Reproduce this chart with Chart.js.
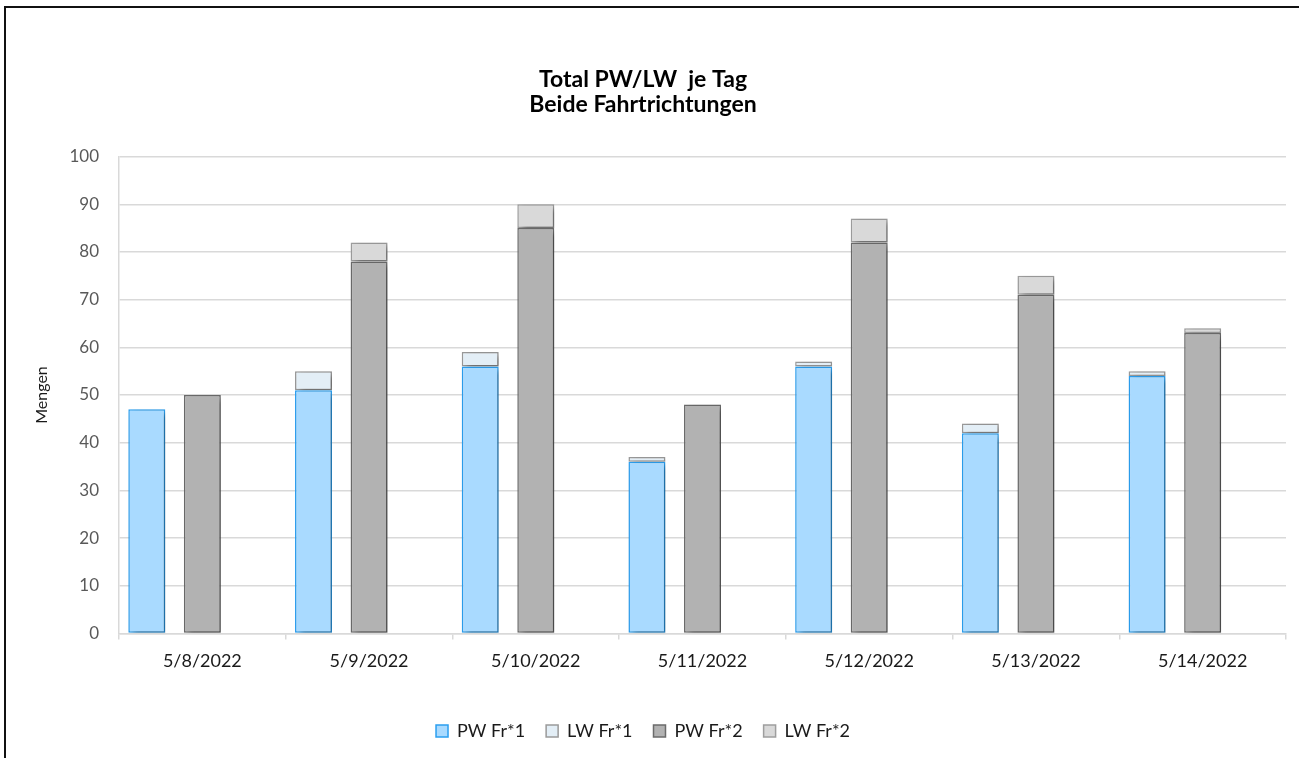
<!DOCTYPE html>
<html>
<head>
<meta charset="utf-8">
<script src="https://cdn.jsdelivr.net/npm/chart.js@4.4.1/dist/chart.umd.min.js"></script>
<style>
    html, body { margin: 0; padding: 0; background: #fff; overflow: hidden; }
    canvas { display: block; }
</style>
</head>
<body>
<canvas id="mengenChart" width="1299" height="758"></canvas>
<script>
const days = ["5/8/2022", "5/9/2022", "5/10/2022", "5/11/2022", "5/12/2022", "5/13/2022", "5/14/2022"];
const pwFr1 = [47, 51, 56, 36, 56, 42, 54];
const lwFr1 = [0, 4, 3, 1, 1, 2, 1];
const pwFr2 = [50, 78, 85, 48, 82, 71, 63];
const lwFr2 = [0, 4, 5, 0, 5, 4, 1];
// leere dritte Gruppe, damit die Säulen wie im Original links vom Kategoriemittel stehen
const empty = [null, null, null, null, null, null, null];

const FONT = "Lato, 'Open Sans', sans-serif";

// Rahmen oben und links wie im Excel-Ausschnitt
const framePlugin = {
    id: "frame",
    beforeDraw(chart) {
        const ctx = chart.ctx;
        ctx.save();
        ctx.fillStyle = "#fff";
        ctx.fillRect(0, 0, chart.width, chart.height);
        ctx.fillStyle = "#111";
        ctx.fillRect(4, 6, chart.width, 2);
        ctx.fillRect(4, 6, 2, chart.height);
        ctx.restore();
    }
};

const shadowPlugin = {
    id: "barShadow",
    beforeDatasetsDraw(chart) {
        const ctx = chart.ctx;
        ctx.save();
        ctx.shadowColor = "rgba(0,0,0,0.35)";
        ctx.shadowOffsetX = 4;
        ctx.shadowOffsetY = 3;
        ctx.shadowBlur = 6;
    },
    afterDatasetsDraw(chart) {
        chart.ctx.restore();
    }
};

function barSet(label, data, stack, fill, border) {
    return {
        label: label,
        data: data,
        stack: stack,
        backgroundColor: fill,
        borderColor: border,
        borderWidth: 1.5,
        borderSkipped: false,
        barPercentage: 0.665,
        categoryPercentage: 1.0,
    };
}

new Chart(document.getElementById("mengenChart"), {
    type: "bar",
    data: {
        labels: days,
        datasets: [
            barSet("PW Fr*1", pwFr1, "fr1", "#a9daff", "#2b9ff0"),
            barSet("LW Fr*1", lwFr1, "fr1", "#e3eef6", "#9a9a9a"),
            barSet("PW Fr*2", pwFr2, "fr2", "#b2b2b2", "#6b6b6b"),
            barSet("LW Fr*2", lwFr2, "fr2", "#d9d9d9", "#9e9e9e"),
            barSet("", empty, "leer", "rgba(0,0,0,0)", "rgba(0,0,0,0)"),
        ]
    },
    plugins: [framePlugin, shadowPlugin],
    options: {
        responsive: false,
        animation: false,
        devicePixelRatio: 1,
        layout: {
            padding: { left: 0, right: 13, top: 0, bottom: 8 }
        },
        plugins: {
            title: {
                display: true,
                text: ["Total PW/LW  je Tag", "Beide Fahrtrichtungen"],
                color: "#000",
                font: { family: FONT, size: 23, weight: "bold", lineHeight: 1.1 },
                padding: { top: 67, bottom: 39 }
            },
            legend: {
                position: "bottom",
                labels: {
                    color: "#1a1a1a",
                    font: { family: FONT, size: 18 },
                    boxWidth: 12,
                    boxHeight: 12,
                    padding: 21,
                    filter: item => item.text !== ""
                }
            },
            tooltip: { enabled: false }
        },
        scales: {
            x: {
                stacked: true,
                afterFit(scale) { scale.height += 18; },
                grid: {
                    offset: true,
                    drawOnChartArea: false,
                    drawTicks: true,
                    tickLength: 6,
                    color: "#d9d9d9",
                    lineWidth: 1.5
                },
                border: { color: "#d9d9d9", width: 1.5 },
                ticks: {
                    color: "#1a1a1a",
                    font: { family: FONT, size: 18 },
                    padding: 11,
                    maxRotation: 0
                }
            },
            y: {
                stacked: true,
                min: 0,
                max: 100,
                afterFit(scale) { scale.width = 119; },
                ticks: {
                    stepSize: 10,
                    color: "#595959",
                    font: { family: FONT, size: 17 },
                    padding: 20
                },
                grid: {
                    color: "#d9d9d9",
                    lineWidth: 1.5,
                    drawTicks: false
                },
                border: { color: "#d9d9d9", width: 1.5 },
                title: {
                    display: true,
                    text: "Mengen",
                    color: "#1a1a1a",
                    font: { family: FONT, size: 16 },
                    padding: { top: 32, bottom: 0 }
                }
            }
        }
    }
});
</script>
</body>
</html>
